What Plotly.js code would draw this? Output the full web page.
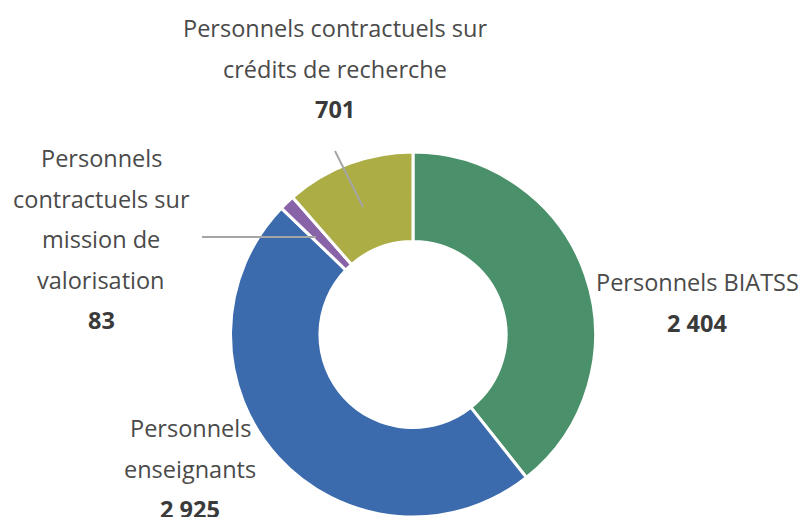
<!DOCTYPE html>
<html>
<head>
<meta charset="utf-8">
<script src="https://cdn.plot.ly/plotly-3.0.1.min.js"></script>
<style>html,body{margin:0;padding:0;background:#fff;overflow:hidden}#chart{width:802px;height:517px}</style>
</head>
<body>
<div id="chart"></div>
<script>
// Data
const categories = ["Personnels BIATSS", "Personnels enseignants", "Personnels contractuels sur mission de valorisation", "Personnels contractuels sur crédits de recherche"];
const values = [2404, 2925, 83, 701];
const labelLines = [
  ["Personnels BIATSS"],
  ["Personnels", "enseignants"],
  ["Personnels", "contractuels sur", "mission de", "valorisation"],
  ["Personnels contractuels sur", "crédits de recherche"]
];
const colors = ["#4a906a", "#3b6bad", "#8963a8", "#adad46"];

// Label placement (pixels)
const W = 802, H = 517;
const labelPos = [
  {x: 697, y: 282},
  {x: 190, y: 428},
  {x: 101, y: 158},
  {x: 335, y: 28}
];
const lineStep = 40.5;
const fmt = v => String(v).replace(/\B(?=(\d{3})+(?!\d))/g, " ");

const annotations = [];
categories.forEach((c, i) => {
  const lines = labelLines[i].concat(["<b>" + fmt(values[i]) + "</b>"]);
  lines.forEach((t, k) => {
    const bold = k === lines.length - 1;
    annotations.push({
      xref: "paper", yref: "paper",
      x: labelPos[i].x / W, y: 1 - (labelPos[i].y + k * lineStep) / H,
      xanchor: "center", yanchor: "middle",
      text: t, showarrow: false,
      font: {family: "Open Sans, Noto Sans, sans-serif", size: 23.5, color: bold ? "#3a3a3a" : "#4a4a4a"}
    });
  });
});

const leader = (x0, y0, x1, y1) => ({
  type: "line", xref: "paper", yref: "paper",
  x0: x0 / W, y0: 1 - y0 / H, x1: x1 / W, y1: 1 - y1 / H,
  line: {color: "#a6a6a6", width: 2}
});

const trace = {
  type: "pie",
  labels: categories,
  values: values,
  hole: 0.51,
  sort: false,
  direction: "clockwise",
  rotation: 0,
  textinfo: "none",
  hoverinfo: "label+value",
  marker: {colors: colors, line: {color: "#ffffff", width: 3}},
  domain: {x: [(413 - 300) / W, (413 + 300) / W], y: [0, 1 - 152 / H]},
  showlegend: false
};

const layout = {
  width: W, height: H,
  margin: {l: 0, r: 0, t: 0, b: 0},
  paper_bgcolor: "#ffffff",
  showlegend: false,
  annotations: annotations,
  shapes: [leader(335, 151, 363, 207), leader(202, 237, 316, 237)]
};

Plotly.newPlot("chart", [trace], layout, {displayModeBar: false, staticPlot: true});
</script>
</body>
</html>
